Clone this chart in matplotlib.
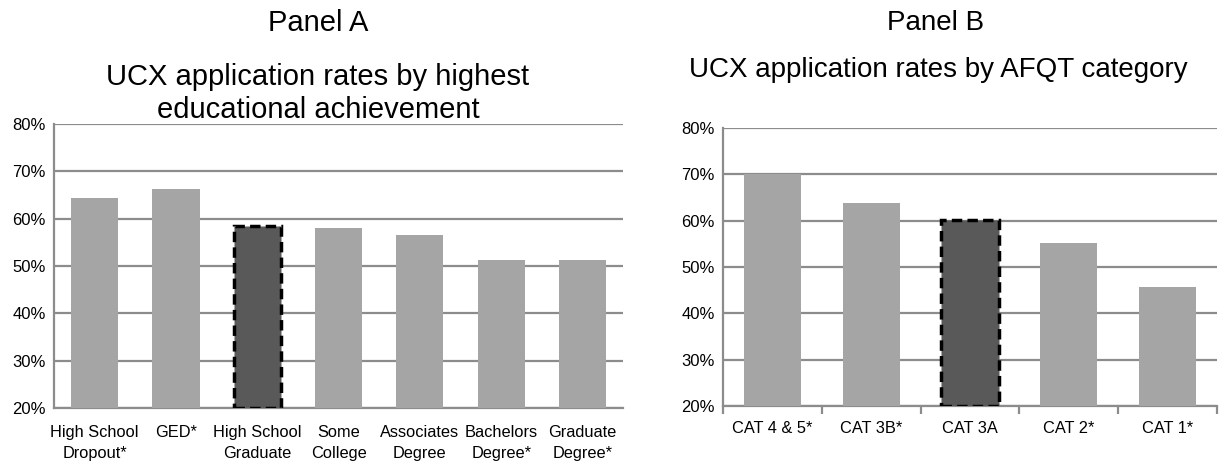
import matplotlib
matplotlib.use('Agg')
import matplotlib.pyplot as plt
from matplotlib.ticker import FuncFormatter

plt.rcParams['font.family'] = ['Liberation Sans', 'DejaVu Sans']

# Panel A data
edu_labels = ['High School\nDropout*', 'GED*', 'High School\nGraduate', 'Some\nCollege',
              'Associates\nDegree', 'Bachelors\nDegree*', 'Graduate\nDegree*']
edu_rates = [64.3, 66.2, 58.4, 58.1, 56.5, 51.2, 51.2]
edu_ref = 2

# Panel B data
afqt_labels = ['CAT 4 & 5*', 'CAT 3B*', 'CAT 3A', 'CAT 2*', 'CAT 1*']
afqt_rates = [70.0, 63.8, 60.2, 55.1, 45.8]
afqt_ref = 2

yticks = [20, 30, 40, 50, 60, 70, 80]

LIGHT = '#a5a5a5'
DARK = '#595959'
GRID = '#8c8c8c'


def draw_panel(ax, labels, rates, ref, xticks_marks, xpad):
    x = range(len(labels))
    colors = [DARK if i == ref else LIGHT for i in x]
    bars = ax.bar(x, [r - 20 for r in rates], bottom=20, width=0.58, color=colors, zorder=3)
    b = bars[ref]
    b.set_edgecolor('black')
    b.set_linestyle((0, (3, 1.5)))
    b.set_linewidth(2.5)
    ax.set_ylim(20, 80)
    ax.set_xlim(-0.5, len(labels) - 0.5)
    ax.set_yticks(yticks)
    ax.yaxis.set_major_formatter(FuncFormatter(lambda v, p: f'{v:.0f}%'))
    ax.grid(axis='y', color=GRID, linewidth=1.6, zorder=0)
    for s in ['top', 'right']:
        ax.spines[s].set_visible(False)
    for s in ['left', 'bottom']:
        ax.spines[s].set_color(GRID)
        ax.spines[s].set_linewidth(1.6)
    ax.tick_params(axis='y', length=0, labelsize=12, pad=6)
    ax.set_xticks(list(x))
    ax.set_xticklabels(labels, fontsize=11.8, linespacing=1.55)
    ax.tick_params(axis='x', length=0, pad=xpad)
    if xticks_marks:
        ax.set_xticks([i + 0.5 for i in range(-1, len(labels))], minor=True)
        ax.tick_params(axis='x', which='minor', length=6, width=1.6, color=GRID, direction='out')


fig = plt.figure(figsize=(12.32, 4.68), dpi=100)
axA = fig.add_axes([0.0438, 0.128, 0.462, 0.607])
axB = fig.add_axes([0.5869, 0.1325, 0.4007, 0.5936])

draw_panel(axA, edu_labels, edu_rates, edu_ref, False, 12)
draw_panel(axB, afqt_labels, afqt_rates, afqt_ref, True, 11)

fig.text(0.258, 0.951, 'Panel A', ha='center', va='center', fontsize=21)
fig.text(0.258, 0.80, 'UCX application rates by highest\neducational achievement',
         ha='center', va='center', fontsize=21, linespacing=1.22)
fig.text(0.759, 0.951, 'Panel B', ha='center', va='center', fontsize=20)
fig.text(0.762, 0.85, 'UCX application rates by AFQT category',
         ha='center', va='center', fontsize=20)

fig.savefig('out.png', dpi=100)
